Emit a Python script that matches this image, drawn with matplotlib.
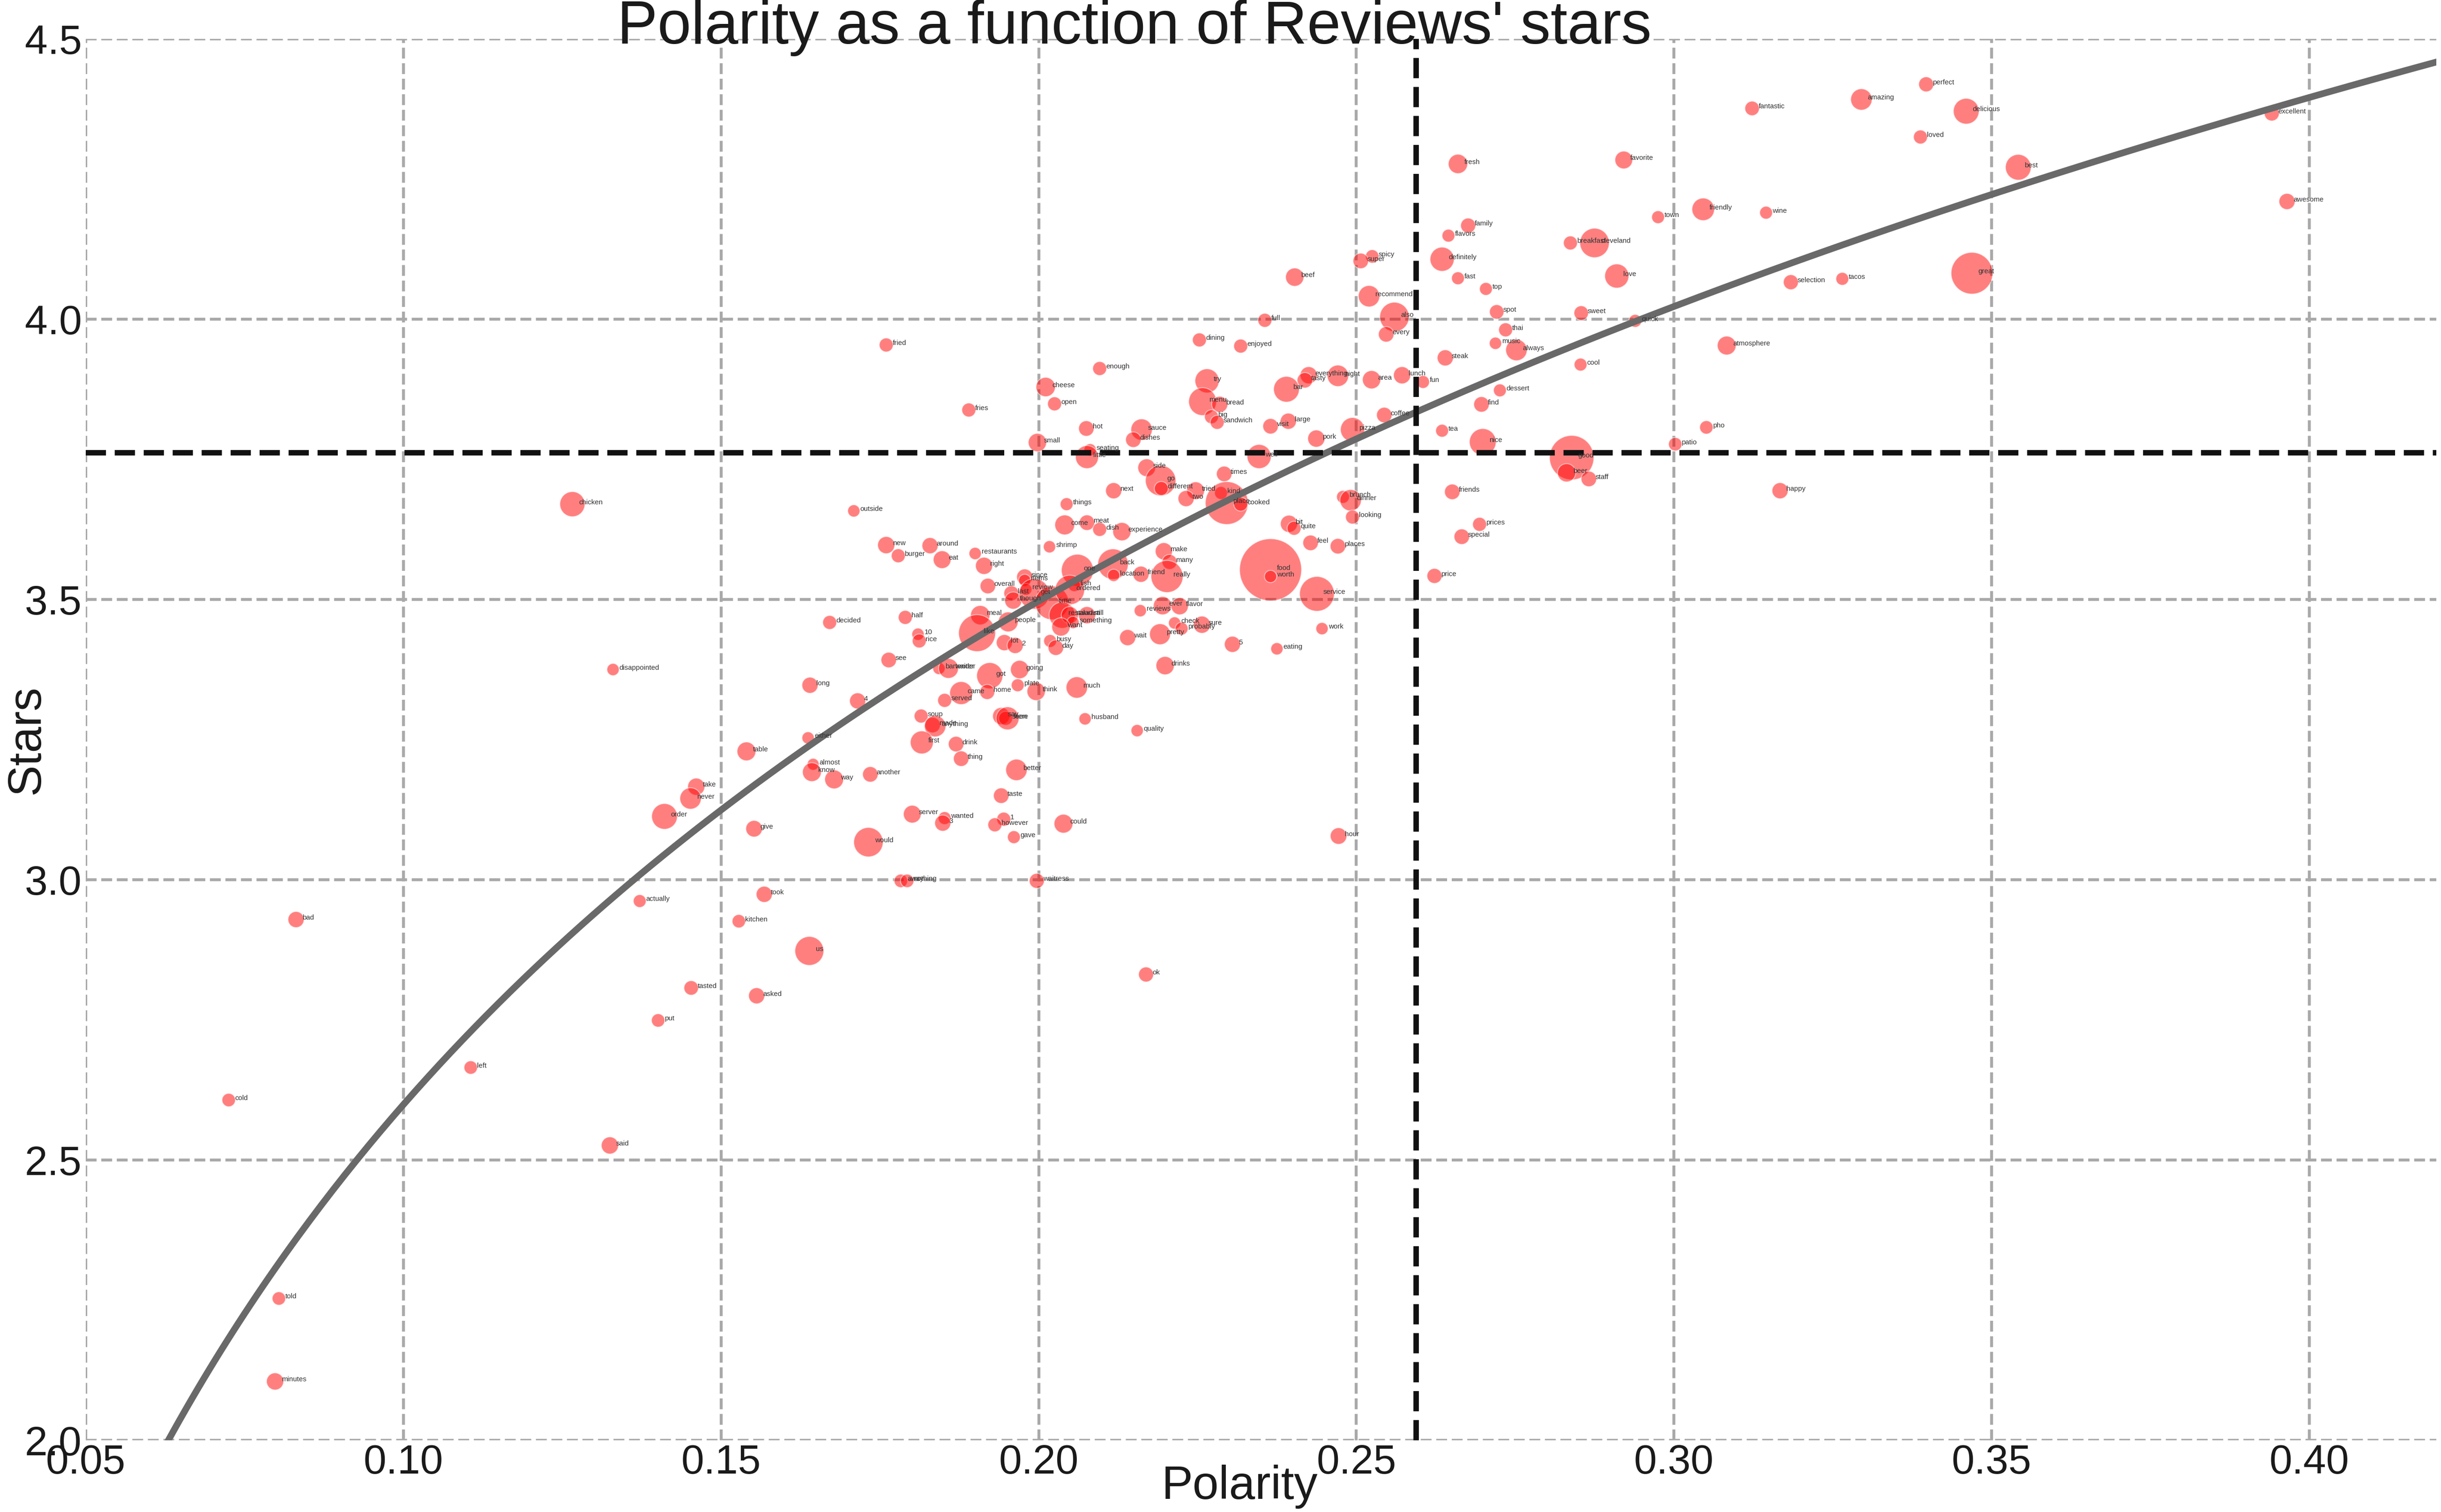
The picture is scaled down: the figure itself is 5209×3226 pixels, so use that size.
import numpy as np
import matplotlib.pyplot as plt

# words used in reviews, their mean polarity, mean stars and how often they appear
words = [
    'hot', 'sauce', 'dishes', 'small', 'seating', 'little', 'side', 'go', 'different', 'tried',
    'two', 'next', 'things', 'outside', 'come', 'meat', 'dish', 'experience', 'new', 'around',
    'burger', 'eat', 'restaurants', 'right', 'shrimp', 'one', 'back', 'location', 'friend', 'make',
    'many', 'really', 'since', 'items', 'overall', 'review', 'last', 'though', 'get', 'time',
    'fish', 'ordered', 'meal', 'people', 'like', 'restaurant', 'salad', 'still', 'something', 'want',
    'decided', 'half', '10', 'rice', 'lot', '2', 'busy', 'day', 'see', 'bartender',
    'waiter', 'got', 'going', 'long', 'plate', 'think', 'much', 'came', 'home', '4',
    'served', 'soup', 'made', 'anything', 'say', 'seen', 'here', 'husband', 'quality', 'either',
    'first', 'drink', 'reviews', 'ever', 'flavor', 'check', 'probably', 'sure', 'wait', 'pretty',
    'drinks', 'thing', 'almost', 'know', 'way', 'another', 'better', 'taste', 'server', 'wanted',
    '3', '1', 'however', 'could', 'gave', 'would', '5', 'spicy', 'super', 'definitely',
    'beef', 'fast', 'top', 'recommend', 'spot', 'sweet', 'also', 'full', 'thai', 'every',
    'dining', 'enjoyed', 'music', 'always', 'steak', 'cool', 'try', 'everything', 'tasty', 'night',
    'bar', 'area', 'lunch', 'fun', 'dessert', 'menu', 'bread', 'big', 'sandwich', 'find',
    'coffee', 'large', 'visit', 'pizza', 'tea', 'pork', 'nice', 'good', 'beer', 'staff',
    'well', 'times', 'friends', 'kind', 'place', 'cooked', 'brunch', 'dinner', 'looking', 'prices',
    'special', 'bit', 'quite', 'feel', 'places', 'food', 'worth', 'service', 'price', 'work',
    'eating', 'hour', 'fried', 'fries', 'enough', 'cheese', 'open', 'fresh', 'family', 'flavors',
    'breakfast', 'cleveland', 'perfect', 'amazing', 'fantastic', 'delicious', 'loved', 'favorite', 'friendly', 'town',
    'wine', 'selection', 'tacos', 'great', 'love', 'quick', 'atmosphere', 'pho', 'patio', 'happy',
    'best', 'excellent', 'awesome', 'chicken', 'disappointed', 'table', 'take', 'never', 'order', 'give',
    'took', 'actually', 'kitchen', 'us', 'tasted', 'asked', 'bad', 'put', 'left', 'cold',
    'said', 'told', 'minutes', 'away', 'nothing', 'waitress', 'ok',
]

polarity = [
    0.2075, 0.2162, 0.2149, 0.1998, 0.2081, 0.2076, 0.2170, 0.2192, 0.2193, 0.2247,
    0.2232, 0.2118, 0.2044, 0.1709, 0.2041, 0.2076, 0.2096, 0.2131, 0.1760, 0.1829,
    0.1779, 0.1848, 0.1900, 0.1914, 0.2017, 0.2061, 0.2117, 0.2118, 0.2161, 0.2197,
    0.2206, 0.2202, 0.1978, 0.1978, 0.1920, 0.1980, 0.1957, 0.1960, 0.1993, 0.2021,
    0.2056, 0.2049, 0.1908, 0.1952, 0.1903, 0.2037, 0.2049, 0.2076, 0.2054, 0.2035,
    0.1671, 0.1790, 0.1810, 0.1812, 0.1946, 0.1963, 0.2018, 0.2027, 0.1764, 0.1843,
    0.1858, 0.1923, 0.1970, 0.1640, 0.1967, 0.1996, 0.2060, 0.1878, 0.1919, 0.1715,
    0.1852, 0.1815, 0.1833, 0.1837, 0.1941, 0.1948, 0.1951, 0.2073, 0.2155, 0.1637,
    0.1816, 0.1870, 0.2160, 0.2195, 0.2222, 0.2214, 0.2225, 0.2257, 0.2140, 0.2191,
    0.2199, 0.1878, 0.1645, 0.1643, 0.1678, 0.1735, 0.1965, 0.1941, 0.1801, 0.1852,
    0.1849, 0.1945, 0.1931, 0.2039, 0.1961, 0.1732, 0.2305, 0.2525, 0.2507, 0.2635,
    0.2403, 0.2660, 0.2704, 0.2520, 0.2721, 0.2854, 0.2560, 0.2356, 0.2735, 0.2547,
    0.2253, 0.2318, 0.2719, 0.2752, 0.2640, 0.2853, 0.2265, 0.2425, 0.2419, 0.2471,
    0.2390, 0.2524, 0.2572, 0.2605, 0.2726, 0.2258, 0.2285, 0.2272, 0.2281, 0.2697,
    0.2544, 0.2393, 0.2365, 0.2494, 0.2635, 0.2437, 0.2699, 0.2839, 0.2831, 0.2866,
    0.2347, 0.2292, 0.2651, 0.2287, 0.2296, 0.2318, 0.2479, 0.2491, 0.2494, 0.2694,
    0.2666, 0.2394, 0.2402, 0.2428, 0.2471, 0.2365, 0.2365, 0.2438, 0.2623, 0.2446,
    0.2375, 0.2472, 0.1760, 0.1890, 0.2096, 0.2011, 0.2025, 0.2660, 0.2676, 0.2645,
    0.2837, 0.2875, 0.3397, 0.3295, 0.3123, 0.3460, 0.3388, 0.2921, 0.3046, 0.2975,
    0.3145, 0.3184, 0.3265, 0.3469, 0.2910, 0.2939, 0.3083, 0.3051, 0.3002, 0.3167,
    0.3542, 0.3941, 0.3965, 0.1266, 0.1330, 0.1540, 0.1461, 0.1452, 0.1411, 0.1552,
    0.1568, 0.1372, 0.1528, 0.1639, 0.1453, 0.1556, 0.0831, 0.1401, 0.1106, 0.0725,
    0.1325, 0.0804, 0.0798, 0.1783, 0.1793, 0.1997, 0.2169,
]

stars = [
    3.805, 3.803, 3.785, 3.780, 3.767, 3.754, 3.735, 3.712, 3.698, 3.694,
    3.680, 3.694, 3.670, 3.658, 3.633, 3.637, 3.625, 3.621, 3.597, 3.596,
    3.578, 3.571, 3.582, 3.560, 3.594, 3.552, 3.563, 3.543, 3.545, 3.586,
    3.567, 3.541, 3.540, 3.534, 3.524, 3.518, 3.511, 3.498, 3.510, 3.494,
    3.525, 3.517, 3.472, 3.460, 3.440, 3.472, 3.472, 3.472, 3.459, 3.451,
    3.459, 3.468, 3.438, 3.426, 3.423, 3.418, 3.426, 3.414, 3.392, 3.377,
    3.377, 3.364, 3.375, 3.347, 3.347, 3.336, 3.343, 3.333, 3.335, 3.319,
    3.320, 3.292, 3.276, 3.274, 3.292, 3.288, 3.288, 3.287, 3.266, 3.253,
    3.245, 3.242, 3.480, 3.489, 3.488, 3.458, 3.448, 3.455, 3.432, 3.438,
    3.382, 3.216, 3.206, 3.192, 3.179, 3.188, 3.196, 3.150, 3.117, 3.110,
    3.101, 3.108, 3.098, 3.100, 3.076, 3.067, 3.420, 4.112, 4.104, 4.107,
    4.075, 4.073, 4.054, 4.041, 4.013, 4.011, 4.004, 3.998, 3.981, 3.973,
    3.963, 3.952, 3.957, 3.945, 3.931, 3.919, 3.890, 3.900, 3.891, 3.899,
    3.875, 3.892, 3.900, 3.888, 3.873, 3.853, 3.848, 3.826, 3.816, 3.848,
    3.829, 3.818, 3.809, 3.803, 3.801, 3.787, 3.781, 3.753, 3.726, 3.715,
    3.755, 3.724, 3.692, 3.690, 3.672, 3.670, 3.683, 3.677, 3.647, 3.634,
    3.612, 3.635, 3.627, 3.601, 3.595, 3.553, 3.541, 3.510, 3.542, 3.448,
    3.412, 3.078, 3.954, 3.838, 3.912, 3.879, 3.849, 4.277, 4.167, 4.149,
    4.136, 4.136, 4.419, 4.392, 4.376, 4.371, 4.325, 4.284, 4.196, 4.182,
    4.190, 4.066, 4.072, 4.082, 4.077, 3.997, 3.953, 3.807, 3.777, 3.694,
    4.271, 4.367, 4.210, 3.670, 3.375, 3.229, 3.166, 3.145, 3.113, 3.091,
    2.974, 2.962, 2.926, 2.873, 2.807, 2.793, 2.929, 2.749, 2.665, 2.607,
    2.526, 2.253, 2.105, 2.998, 2.998, 2.998, 2.831,
]

mentions = [
    48, 92, 48, 67, 30, 106, 63, 187, 39, 63,
    52, 52, 33, 30, 79, 48, 39, 67, 59, 52,
    39, 63, 30, 59, 30, 207, 187, 30, 52, 59,
    45, 207, 52, 30, 48, 28, 45, 59, 187, 229,
    30, 174, 75, 79, 274, 138, 59, 59, 30, 67,
    39, 39, 30, 39, 52, 52, 33, 48, 48, 30,
    79, 138, 67, 52, 33, 67, 92, 106, 45, 52,
    39, 39, 48, 92, 59, 39, 106, 30, 30, 30,
    106, 48, 30, 67, 59, 30, 33, 59, 52, 88,
    67, 48, 28, 71, 71, 48, 92, 48, 63, 33,
    52, 39, 39, 71, 33, 174, 52, 36, 48, 117,
    67, 33, 33, 92, 42, 42, 174, 39, 39, 48,
    39, 39, 30, 92, 52, 33, 117, 59, 48, 92,
    133, 67, 59, 33, 33, 156, 52, 39, 39, 48,
    48, 52, 48, 117, 33, 59, 144, 397, 67, 48,
    117, 48, 48, 33, 369, 39, 33, 92, 39, 39,
    48, 59, 39, 48, 48, 775, 30, 243, 45, 30,
    30, 55, 39, 39, 39, 75, 39, 75, 45, 33,
    39, 174, 45, 92, 42, 133, 39, 63, 102, 33,
    33, 45, 33, 350, 117, 33, 71, 36, 36, 52,
    133, 45, 52, 127, 30, 71, 59, 92, 133, 55,
    52, 33, 36, 168, 42, 52, 52, 36, 36, 36,
    59, 36, 59, 36, 36, 45, 45,
]

# reference lines
mean_polarity = 0.2594
mean_stars = 3.762
fit_slope = 1.296       # stars = intercept + slope * ln(polarity)
fit_intercept = 5.583

plt.rcParams['font.family'] = ['Liberation Sans', 'DejaVu Sans']

W, H, DPI = 5209, 3226, 300
fig = plt.figure(figsize=(W / DPI, H / DPI), dpi=DPI)
ax = fig.add_axes([183 / W, 1 - 3073 / H, (5199 - 183) / W, (3073 - 83) / H])

ax.grid(True, linestyle='--', color='darkgrey', linewidth=1.5)
ax.set_axisbelow(True)
for sp in ax.spines.values():
    sp.set_visible(False)
ax.tick_params(length=0, labelsize=21, pad=2, colors='#1a1a1a')

ax.scatter(polarity, stars, s=np.array(mentions) * 1.3, color='red', alpha=0.5,
           edgecolors='white', linewidths=0.5, zorder=2)
for w, x, y in zip(words, polarity, stars):
    ax.text(x + 0.001, y, w, fontsize=3.6, color='#333333', zorder=6)

xs = np.linspace(0.05, 0.42, 400)
ax.plot(xs, fit_intercept + fit_slope * np.log(xs), color='dimgray', lw=3.4, zorder=3)
ax.axvline(mean_polarity, color='#111111', ls='--', lw=2.8, zorder=4)
ax.axhline(mean_stars, color='#111111', ls='--', lw=2.8, zorder=4)

ax.set_xlim(0.05, 0.42)
ax.set_ylim(2.0, 4.5)
ax.set_xticks(np.arange(0.05, 0.4001, 0.05))
ax.set_yticks(np.arange(2.0, 4.5001, 0.5))
ax.xaxis.set_major_formatter('{x:.2f}')
ax.yaxis.set_major_formatter('{x:.1f}')

ax.set_title("Polarity as a function of Reviews' stars", fontsize=31, pad=-2.4,
             x=0.446, y=1.0, color='#1a1a1a')
ax.set_xlabel('Polarity', fontsize=24, color='#1a1a1a')
ax.xaxis.set_label_coords(0.491, -0.0174)
ax.set_ylabel('Stars', fontsize=24, color='#1a1a1a')
ax.yaxis.set_label_coords(-0.0157, 0.5)

fig.savefig('out.png', dpi=DPI)
